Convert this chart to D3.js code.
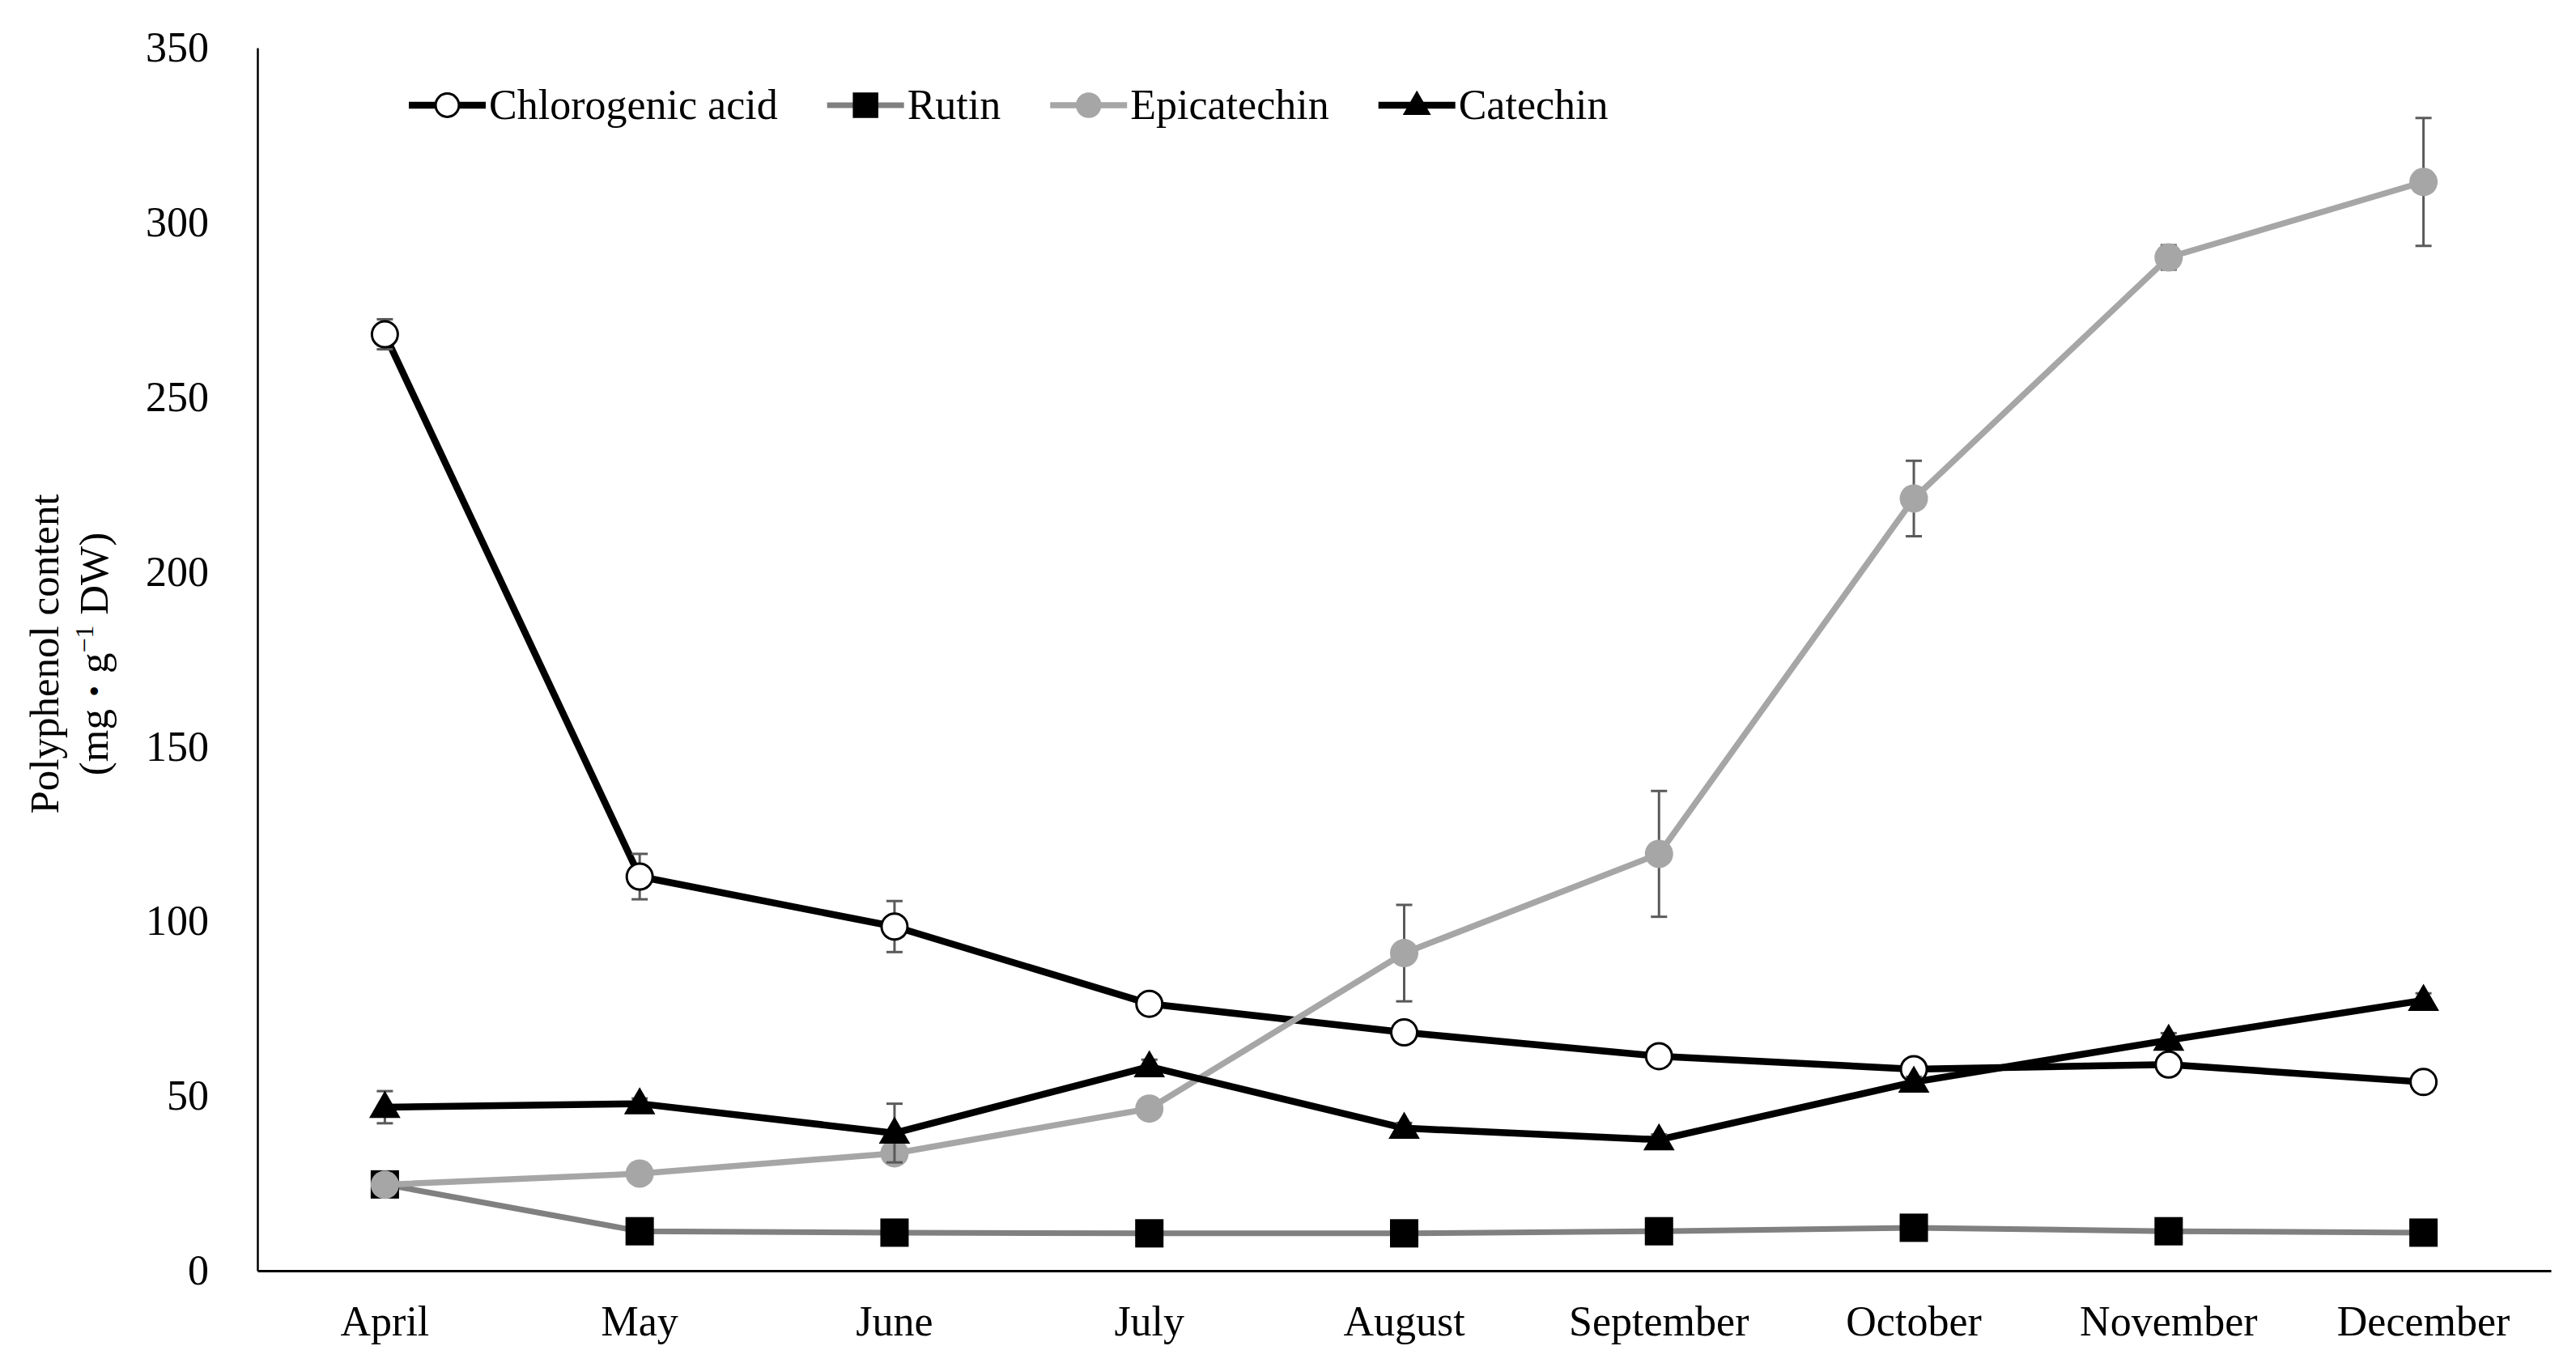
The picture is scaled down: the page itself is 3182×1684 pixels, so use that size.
<!DOCTYPE html>
<html>
<head>
<meta charset="utf-8">
<script src="https://cdn.jsdelivr.net/npm/d3@7"></script>
<style>
  html, body { margin: 0; padding: 0; background: #fff; }
  svg { display: block; }
  text { font-family: "Liberation Serif", "Times New Roman", serif; fill: #000; }
</style>
</head>
<body>
<svg id="chart" width="3182" height="1684"></svg>
<script>
// ---- Data ----
const months = ["April", "May", "June", "July", "August", "September", "October", "November", "December"];
const yTicks = [0, 50, 100, 150, 200, 250, 300, 350];

const chlorogenic    = [268.0, 112.8, 98.5, 76.4, 68.2, 61.4, 57.7, 59.0, 54.0];
const chlorogenicErr = [4.3, 6.5, 7.3, 1.5, 1.5, 1.5, 1.5, 1.5, 1.5];
const rutin          = [24.7, 11.3, 10.9, 10.7, 10.7, 11.3, 12.3, 11.3, 10.9];
const rutinErr       = [1.0, 0.8, 0.8, 0.8, 0.8, 0.8, 0.8, 0.8, 0.8];
const epicatechin    = [24.6, 27.8, 33.6, 46.4, 90.9, 119.3, 221.0, 290.0, 311.6];
const epicatechinErr = [1.0, 1.0, 1.5, 2.0, 13.8, 18.0, 10.8, 3.5, 18.3];
const catechin       = [46.8, 47.8, 39.4, 58.4, 40.8, 37.5, 54.0, 66.0, 77.4];
const catechinErr    = [4.6, 1.5, 8.4, 2.0, 1.5, 1.5, 1.5, 2.0, 2.0];

const seriesNames = ["Chlorogenic acid", "Rutin", "Epicatechin", "Catechin"];

// ---- Setup ----
const svg = d3.select("#chart");
const plotLeft = 318, plotRight = 3151, plotTop = 59, plotBottom = 1570;

const x = d3.scaleBand().domain(months).range([plotLeft, plotRight]).padding(0);
const cx = m => x(m) + x.bandwidth() / 2;
const y = d3.scaleLinear().domain([0, 350]).range([plotBottom, plotTop]);

const series = [
  { name: seriesNames[0], values: chlorogenic, err: chlorogenicErr, line: "#000000", lw: 8.5, marker: "circleOpen" },
  { name: seriesNames[1], values: rutin, err: rutinErr, line: "#808080", lw: 7, marker: "square" },
  { name: seriesNames[2], values: epicatechin, err: epicatechinErr, line: "#a6a6a6", lw: 7.5, marker: "circleGray" },
  { name: seriesNames[3], values: catechin, err: catechinErr, line: "#000000", lw: 8.5, marker: "triangle" }
];

function drawMarker(g, type, px, py, scale) {
  const s = scale || 1;
  if (type === "circleOpen") {
    g.append("circle").attr("cx", px).attr("cy", py).attr("r", 16 * s)
      .attr("fill", "#fff").attr("stroke", "#000").attr("stroke-width", 3);
  } else if (type === "circleGray") {
    g.append("circle").attr("cx", px).attr("cy", py).attr("r", 17.5 * s)
      .attr("fill", "#a6a6a6");
  } else if (type === "square") {
    const h = 17.5 * s;
    g.append("rect").attr("x", px - h).attr("y", py - h).attr("width", 2 * h).attr("height", 2 * h)
      .attr("fill", "#000");
  } else if (type === "triangle") {
    const tri = d3.symbol().type(d3.symbolTriangle).size(650 * s * s);
    g.append("path").attr("d", tri()).attr("transform", `translate(${px},${py + 2})`)
      .attr("fill", "#000");
  }
}

// ---- Axes ----
const yAxis = d3.axisLeft(y).tickValues(yTicks).tickSize(0).tickPadding(60).tickFormat(d3.format("d"));
const gy = svg.append("g").attr("transform", `translate(${plotLeft},0)`).call(yAxis);
gy.select(".domain").attr("stroke", "#000").attr("stroke-width", 2.5);
gy.selectAll("text").attr("font-size", 52).attr("font-family", "Liberation Serif, serif");

const xAxis = d3.axisBottom(x).tickSize(0).tickPadding(43);
const gx = svg.append("g").attr("transform", `translate(0,${plotBottom})`).call(xAxis);
gx.select(".domain").attr("stroke", "#000").attr("stroke-width", 3);
gx.selectAll("text").attr("font-size", 52).attr("font-family", "Liberation Serif, serif");

// ---- Y label ----
const yl = svg.append("g").attr("transform", "translate(0,808) rotate(-90)");
yl.append("text").attr("x", 0).attr("y", 72).attr("text-anchor", "middle").attr("font-size", 51)
  .text("Polyphenol content");
const t2 = yl.append("text").attr("x", 0).attr("y", 133).attr("text-anchor", "middle").attr("font-size", 51);
t2.append("tspan").text("(mg");
t2.append("tspan").attr("font-family", "Noto Sans CJK JP, sans-serif").attr("font-size", 44).text("\u30FB");
t2.append("tspan").text("g");
t2.append("tspan").attr("dy", -18).attr("font-size", 32).text("\u22121");
t2.append("tspan").attr("dy", 18).text(" DW)");

// ---- Series ----
const lineGen = d3.line().x(d => cx(d.m)).y(d => y(d.v));
series.forEach(s => {
  const g = svg.append("g");
  const pts = months.map((m, i) => ({ m, v: s.values[i], e: s.err[i] }));
  g.append("path").datum(pts).attr("d", lineGen).attr("fill", "none")
    .attr("stroke", s.line).attr("stroke-width", s.lw).attr("stroke-linejoin", "round");
  pts.forEach(p => {
    const eg = g.append("g").attr("stroke", "#5a5a5a").attr("stroke-width", 3);
    eg.append("line").attr("x1", cx(p.m)).attr("x2", cx(p.m)).attr("y1", y(p.v - p.e)).attr("y2", y(p.v + p.e));
    eg.append("line").attr("x1", cx(p.m) - 10).attr("x2", cx(p.m) + 10).attr("y1", y(p.v + p.e)).attr("y2", y(p.v + p.e));
    eg.append("line").attr("x1", cx(p.m) - 10).attr("x2", cx(p.m) + 10).attr("y1", y(p.v - p.e)).attr("y2", y(p.v - p.e));
  });
  pts.forEach(p => drawMarker(g, s.marker, cx(p.m), y(p.v), 1));
});

// ---- Legend ----
const legendY = 130;
let lx = 505;
series.forEach(s => {
  const g = svg.append("g");
  g.append("line").attr("x1", lx).attr("x2", lx + 95).attr("y1", legendY).attr("y2", legendY)
    .attr("stroke", s.line).attr("stroke-width", s.lw);
  drawMarker(g, s.marker, lx + 47.5, legendY, 0.9);
  const t = g.append("text").attr("x", lx + 99).attr("y", legendY).attr("dy", "0.33em")
    .attr("font-size", 52).text(s.name);
  const w = t.node().getComputedTextLength();
  lx = lx + 99 + w + 61;
});
</script>
</body>
</html>
